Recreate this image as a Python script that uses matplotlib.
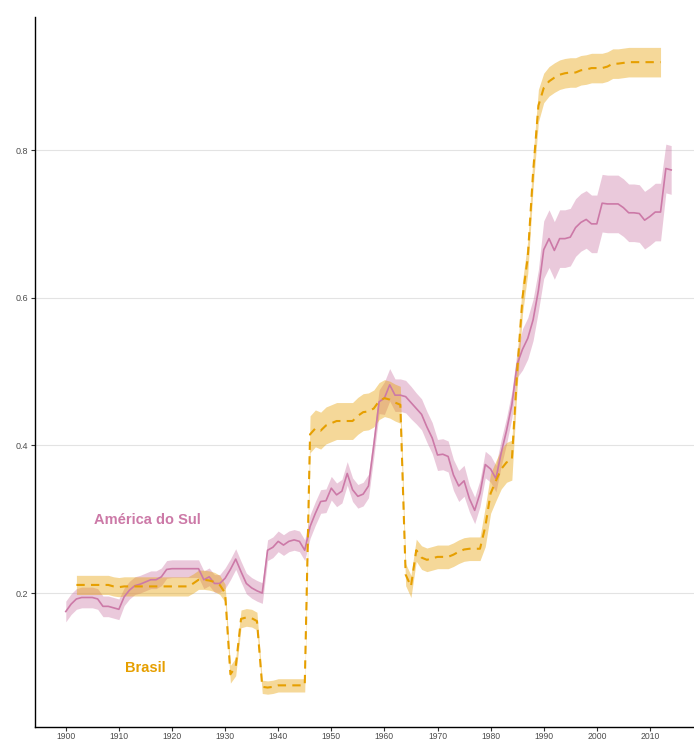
import matplotlib
matplotlib.use("Agg")
import matplotlib.pyplot as plt
import numpy as np

# América do Sul (média e meia largura do intervalo)
anos_as = list(range(1900, 2015))
media_as = [0.175, 0.185, 0.192, 0.194, 0.194, 0.194, 0.192, 0.182, 0.182, 0.180,
            0.178, 0.195, 0.204, 0.210, 0.212, 0.215, 0.218, 0.218, 0.222, 0.232,
            0.233, 0.233, 0.233, 0.233, 0.233, 0.233, 0.218, 0.222, 0.213, 0.213,
            0.220, 0.232, 0.246, 0.229, 0.213, 0.207, 0.203, 0.200, 0.258, 0.262,
            0.270, 0.265, 0.270, 0.272, 0.270, 0.258, 0.290, 0.308, 0.324, 0.325,
            0.342, 0.333, 0.338, 0.362, 0.340, 0.331, 0.334, 0.345, 0.400, 0.459,
            0.464, 0.482, 0.468, 0.468, 0.466, 0.458, 0.450, 0.442, 0.425, 0.410,
            0.387, 0.388, 0.385, 0.360, 0.345, 0.352, 0.328, 0.312, 0.335, 0.374,
            0.368, 0.355, 0.390, 0.420, 0.455, 0.510, 0.530, 0.545, 0.570, 0.610,
            0.665, 0.680, 0.664, 0.680, 0.680, 0.682, 0.695, 0.702, 0.706, 0.700,
            0.700, 0.728, 0.727, 0.727, 0.727, 0.722, 0.715, 0.715, 0.714, 0.705,
            0.710, 0.716, 0.716, 0.775, 0.773]
erro_as = [0.014] * 11 + [0.012] * 19 + [0.014] * 16 + [0.016] * 14 + \
          [0.022] * 6 + [0.021] * 10 + [0.018] * 10 + [0.028] * 4 + \
          [0.039] * 23 + [0.033] * 2

# Brasil
anos_br = list(range(1902, 2013))
media_br = [0.211, 0.211, 0.211, 0.211, 0.211, 0.211, 0.211, 0.209,
            0.208, 0.209, 0.209, 0.209, 0.209, 0.209, 0.209, 0.209, 0.209, 0.209,
            0.209, 0.209, 0.209, 0.209, 0.213, 0.218, 0.218, 0.217, 0.215, 0.211,
            0.200, 0.090, 0.100, 0.165, 0.167, 0.166, 0.162, 0.073, 0.072, 0.073,
            0.075, 0.075, 0.075, 0.075, 0.075, 0.075, 0.415, 0.423, 0.420, 0.427,
            0.430, 0.433, 0.433, 0.433, 0.433, 0.440, 0.445, 0.446, 0.450, 0.460,
            0.464, 0.462, 0.458, 0.455, 0.225, 0.209, 0.258, 0.248, 0.245, 0.247,
            0.249, 0.249, 0.249, 0.252, 0.256, 0.259, 0.260, 0.260, 0.260, 0.290,
            0.335, 0.352, 0.368, 0.377, 0.380, 0.500, 0.600, 0.655, 0.770, 0.860,
            0.884, 0.893, 0.898, 0.902, 0.904, 0.905, 0.905, 0.908, 0.909, 0.911,
            0.911, 0.911, 0.913, 0.917, 0.917, 0.918, 0.919, 0.919, 0.919, 0.919,
            0.919, 0.919, 0.919]
erro_br = [0.013] * 28 + [0.012] * 7 + [0.009] * 9 + [0.025] * 18 + \
          [0.015] * 3 + [0.016] * 12 + [0.027] * 6 + [0.022] * 5 + [0.020] * 23

rosa = "#CC79A7"
laranja = "#E69F00"

fig = plt.figure(figsize=(6.94, 7.41), dpi=100)
ax = fig.add_axes([0.0504, 0.0189, 0.9496, 0.958])

m_as = np.array(media_as)
e_as = np.array(erro_as)
m_br = np.array(media_br)
e_br = np.array(erro_br)

ax.fill_between(anos_as, m_as - e_as, m_as + e_as, color=rosa, alpha=0.4, lw=0)
ax.fill_between(anos_br, m_br - e_br, m_br + e_br, color=laranja, alpha=0.4, lw=0)
ax.plot(anos_as, m_as, color=rosa, lw=1.2)
ax.plot(anos_br, m_br, color=laranja, lw=1.5, dashes=(4, 3))

ax.text(1915.3, 0.299, "América do Sul", color=rosa, fontsize=10.5,
        fontweight="bold", family="Liberation Sans", ha="center", va="center")
ax.text(1914.9, 0.0985, "Brasil", color=laranja, fontsize=10.5,
        fontweight="bold", family="Liberation Sans", ha="center", va="center")

ax.set_xlim(1894.2, 2018.3)
ax.set_ylim(0.0186, 0.980)
ax.set_xticks(range(1900, 2011, 10))
ax.set_yticks([0.2, 0.4, 0.6, 0.8])
ax.set_yticklabels(["0.2", "0.4", "0.6", "0.8"])
ax.grid(axis="y", color="#e3e3e3", lw=0.8)
ax.set_axisbelow(True)
for s in ["top", "right"]:
    ax.spines[s].set_visible(False)
for s in ["left", "bottom"]:
    ax.spines[s].set_color("black")
    ax.spines[s].set_linewidth(1.0)
ax.tick_params(labelsize=6.5, labelcolor="#4d4d4d", length=3, width=0.8,
               color="#333333", pad=2)
ax.tick_params(axis="x", pad=0.5, labelsize=6.2)
for lab in ax.get_xticklabels() + ax.get_yticklabels():
    lab.set_family("Liberation Sans")

fig.savefig("out.png", dpi=100)
